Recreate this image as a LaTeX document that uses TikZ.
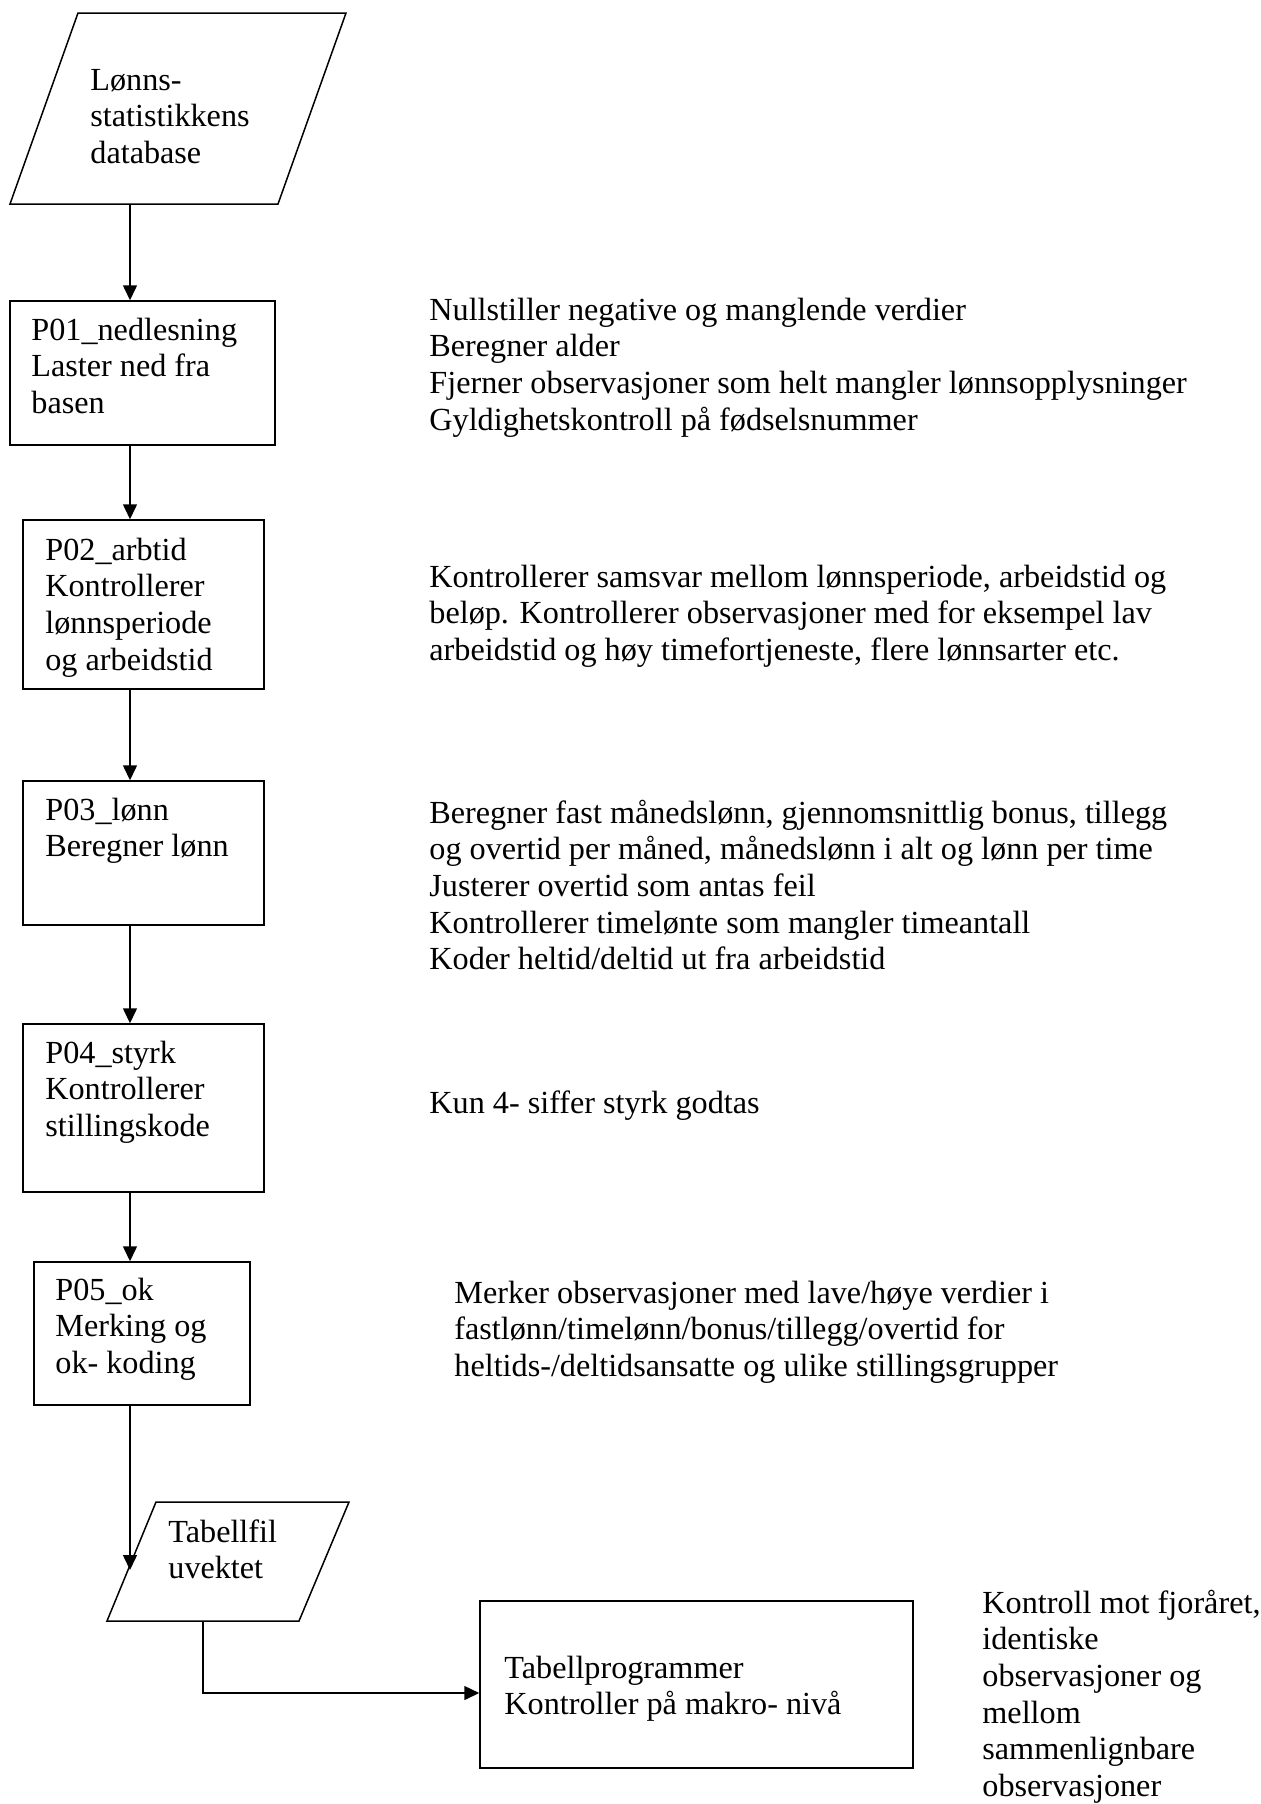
\documentclass[tikz,border=0pt]{standalone}
\usepackage{fontspec}
\setmainfont{Liberation Serif}
\usetikzlibrary{arrows.meta}
\tikzset{
  pbox/.style={draw, line width=0.75pt, rectangle, inner sep=0pt},
  % multi-line texts: anchor base west is the baseline of the LAST line
  txt/.style={inner sep=0pt, anchor=base west, align=left, font=\fontsize{16.1}{18.35}\selectfont},
  conn/.style={line width=0.75pt, -{Triangle[length=7.5pt,width=7pt]}},
  plain/.style={line width=0.75pt},
}
\begin{document}
\begin{tikzpicture}[x=0.5pt,y=-0.5pt]
\useasboundingbox (0,0) rectangle (1261,1804);
% top parallelogram (database)
\draw[plain] (78,13) -- (346,13) -- (278,204) -- (10,204) -- cycle;
\coordinate (dbbot) at (130,204);
\node[txt] (dbtxt) at (90,163.4) {Lønns-\\statistikkens\\database};
% boxes
\node[pbox, minimum width=265*0.5pt, minimum height=144*0.5pt] (p01) at (142.5,373) {};
\node[pbox, minimum width=241*0.5pt, minimum height=169*0.5pt] (p02) at (143.5,604.5) {};
\node[pbox, minimum width=241*0.5pt, minimum height=144*0.5pt] (p03) at (143.5,853) {};
\node[pbox, minimum width=241*0.5pt, minimum height=168*0.5pt] (p04) at (143.5,1108) {};
\node[pbox, minimum width=216*0.5pt, minimum height=143*0.5pt] (p05) at (142,1333.5) {};
\node[pbox, minimum width=433*0.5pt, minimum height=167*0.5pt] (tp) at (696.5,1684.5) {};
% box texts
\node[txt] (t01) at (31,413.4) {P01\_nedlesning\\Laster ned fra\\basen};
\node[txt] (t02) at (45,670.1) {P02\_arbtid\\Kontrollerer\\lønnsperiode\\og arbeidstid};
\node[txt] (t03) at (45,856.7) {P03\_lønn\\Beregner lønn};
\node[txt] (t04) at (45,1136.4) {P04\_styrk\\Kontrollerer\\stillingskode};
\node[txt] (t05) at (55,1373.4) {P05\_ok\\Merking og\\ok- koding};
\node[txt] (ttp) at (504,1714.7) {Tabellprogrammer\\Kontroller på makro- nivå};
% Tabellfil parallelogram
\draw[plain] (156,1502) -- (349,1502) -- (299,1621) -- (107,1621) -- cycle;
\node[txt] (ttf) at (168,1578.7) {Tabellfil\\uvektet};
\coordinate (tfin) at (130,1570);
\coordinate (tfbot) at (203,1621);
\coordinate (elbow) at (203,1693);
% right-hand descriptions
\node[txt] (d01) at (429,430.1) {Nullstiller negative og manglende verdier\\Beregner alder\\Fjerner observasjoner som helt mangler lønnsopplysninger\\Gyldighetskontroll på fødselsnummer};
\node[txt] (d02) at (429,660.4) {Kontrollerer samsvar mellom lønnsperiode, arbeidstid og\\beløp. Kontrollerer observasjoner med for eksempel lav\\arbeidstid og høy timefortjeneste, flere lønnsarter etc.};
\node[txt] (d03) at (429,969.8) {Beregner fast månedslønn, gjennomsnittlig bonus, tillegg\\og overtid per måned, månedslønn i alt og lønn per time\\Justerer overtid som antas feil\\Kontrollerer timelønte som mangler timeantall\\Koder heltid/deltid ut fra arbeidstid};
\node[txt] (d04) at (429,1113) {Kun 4- siffer styrk godtas};
\node[txt] (d05) at (454,1376.4) {Merker observasjoner med lave/høye verdier i\\fastlønn/timelønn/bonus/tillegg/overtid for\\heltids-/deltidsansatte og ulike stillingsgrupper};
\node[txt] (d06) at (982,1796.5) {Kontroll mot fjoråret,\\identiske\\observasjoner og\\mellom\\sammenlignbare\\observasjoner};
% connectors
\draw[conn] (dbbot) -- (dbbot |- p01.north);
\draw[conn] (dbbot |- p01.south) -- (dbbot |- p02.north);
\draw[conn] (dbbot |- p02.south) -- (dbbot |- p03.north);
\draw[conn] (dbbot |- p03.south) -- (dbbot |- p04.north);
\draw[conn] (dbbot |- p04.south) -- (dbbot |- p05.north);
\draw[conn] (dbbot |- p05.south) -- (tfin);
\draw[conn] (tfbot) -- (elbow) -- (tp.west |- elbow);
\end{tikzpicture}
\end{document}
